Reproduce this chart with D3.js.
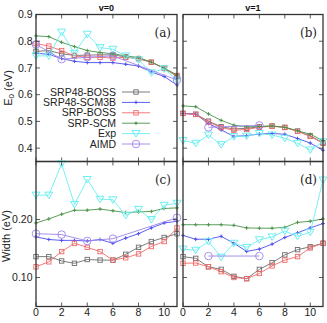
<!DOCTYPE html>
<html><head><meta charset="utf-8">
<script src="https://cdn.jsdelivr.net/npm/d3@7"></script>
<style>body{margin:0;background:#fff}svg{display:block}</style>
</head><body>
<script>
// ---- data ----
const J = [0,1,2,3,4,5,6,7,8,9,10,11];
const aimdJ_v0 = [0,2,4,6,11];
const aimdJ_v1 = [2,6];
const seriesNames = ["SRP48-BOSS","SRP48-SCM3B","SRP-BOSS","SRP-SCM","Exp","AIMD"];
const xTicks = [0,2,4,6,8,10];
const e0Ticks = [0.4,0.5,0.6,0.7,0.8,0.9];
const widthTicks = [0.10,0.20];

// E0, v=0
const e0_v0_srp48boss  = [0.762,0.765,0.753,0.747,0.748,0.749,0.749,0.741,0.735,0.721,0.699,0.668];
const e0_v0_srp48scm3b = [0.755,0.751,0.735,0.725,0.720,0.720,0.720,0.714,0.707,0.685,0.668,0.636];
const e0_v0_srpboss    = [0.791,0.782,0.765,0.745,0.740,0.740,0.737,0.740,0.735,0.722,0.699,0.672];
const e0_v0_srpscm     = [0.820,0.817,0.796,0.780,0.765,0.758,0.753,0.745,0.739,0.722,0.699,0.674];
const e0_v0_exp        = [0.745,0.745,0.834,0.755,0.826,0.776,0.770,0.745,0.730,0.682,0.697,0.655];
const e0_v0_aimd       = [0.788,0.733,0.740,0.745,0.655];
// E0, v=1
const e0_v1_srp48boss  = [0.530,0.527,0.501,0.480,0.472,0.474,0.480,0.483,0.478,0.464,0.446,0.420];
const e0_v1_srp48scm3b = [0.530,0.527,0.492,0.468,0.444,0.447,0.453,0.455,0.452,0.436,0.419,0.392];
const e0_v1_srpboss    = [0.530,0.526,0.497,0.477,0.467,0.470,0.478,0.482,0.477,0.463,0.444,0.418];
const e0_v1_srpscm     = [0.558,0.555,0.528,0.504,0.486,0.480,0.481,0.483,0.478,0.465,0.452,0.428];
const e0_v1_exp        = [0.428,0.418,0.449,0.413,0.443,0.445,0.455,0.449,0.437,0.418,0.393,0.424];
const e0_v1_aimd       = [0.478,0.485];
// Width, v=0
const w_v0_srp48boss  = [0.136,0.136,0.1285,0.1245,0.131,0.130,0.130,0.140,0.152,0.162,0.169,0.1755];
const w_v0_srp48scm3b = [0.170,0.1655,0.164,0.164,0.163,0.1655,0.159,0.168,0.1755,0.1855,0.194,0.197];
const w_v0_srpboss    = [0.1185,0.127,0.1447,0.159,0.152,0.1447,0.130,0.134,0.1407,0.1535,0.162,0.1855];
const w_v0_srpscm     = [0.194,0.201,0.209,0.216,0.216,0.218,0.215,0.212,0.213,0.214,0.219,0.220];
const w_v0_exp        = [0.242,0.242,0.296,0.226,0.269,0.235,0.234,0.207,0.2175,0.200,0.2245,0.228];
const w_v0_aimd       = [0.1755,0.174,0.163,0.167,0.203];
// Width, v=1
const w_v1_srp48boss  = [0.136,0.133,0.1185,0.114,0.102,0.098,0.114,0.1255,0.139,0.148,0.153,0.159];
const w_v1_srp48scm3b = [0.1726,0.166,0.166,0.171,0.159,0.145,0.149,0.1575,0.169,0.177,0.1855,0.193];
const w_v1_srpboss    = [0.1245,0.125,0.1185,0.110,0.100,0.098,0.107,0.120,0.130,0.136,0.151,0.159];
const w_v1_srpscm     = [0.191,0.191,0.191,0.191,0.190,0.1855,0.185,0.185,0.1865,0.195,0.197,0.201];
const w_v1_exp        = [0.149,0.147,0.162,0.135,0.159,0.152,0.165,0.170,0.180,0.171,0.178,0.268];
const w_v1_aimd       = [0.137,0.137];

// ---- styles ----
const styles = {
  "SRP48-BOSS":  {color:"#6e6e6e", mark:"square"},
  "SRP48-SCM3B": {color:"#4d4df0", mark:"plus"},
  "SRP-BOSS":    {color:"#f06a6a", mark:"square"},
  "SRP-SCM":     {color:"#4a944a", mark:"plus"},
  "Exp":         {color:"#6aeef0", mark:"tri"},
  "AIMD":        {color:"#9d85ea", mark:"circle"}
};

const W = 327, H = 323;
const svg = d3.select("body").append("svg").attr("width",W).attr("height",H);
const font = "'Liberation Sans', Arial, Helvetica, sans-serif";

const xL = d3.scaleLinear().domain([0,11]).range([36,177]);
const xR = d3.scaleLinear().domain([0,11]).range([183,323]);
const yTop = d3.scaleLinear().domain([0.35,0.9]).range([161.5,14.5]);
const yBot = d3.scaleLinear().domain([0.05,0.30]).range([306.5,161.5]);

function drawMarker(g, kind, cx, cy, color){
  if(kind==="square"){
    g.append("rect").attr("x",cx-2.2).attr("y",cy-2.2).attr("width",4.4).attr("height",4.4)
      .attr("fill","none").attr("stroke",color).attr("stroke-width",0.9);
  } else if(kind==="plus"){
    g.append("path").attr("d",`M${cx-1.8},${cy}H${cx+1.8}M${cx},${cy-1.8}V${cy+1.8}`)
      .attr("stroke",color).attr("stroke-width",1);
  } else if(kind==="tri"){
    g.append("path").attr("d",`M${cx-4},${cy-3}L${cx+4},${cy-3}L${cx},${cy+3.5}Z`)
      .attr("fill","none").attr("stroke",color).attr("stroke-width",1);
  } else if(kind==="circle"){
    g.append("circle").attr("cx",cx).attr("cy",cy).attr("r",3.8)
      .attr("fill","none").attr("stroke",color).attr("stroke-width",0.9);
  }
}

function panel(x, y, seriesList, yticks, fmt, showYLabels, letter){
  const g = svg.append("g");
  const [x0,x1] = x.range(); const [y1,y0] = y.range();
  seriesList.forEach(s=>{
    const st = styles[s.name];
    const pts = s.js.map((j,i)=>[x(j), y(s.vals[i])]);
    g.append("path").attr("d", d3.line()(pts)).attr("fill","none")
      .attr("stroke", st.color).attr("stroke-width",0.9);
    pts.forEach(p=>drawMarker(g, st.mark, p[0], p[1], st.color));
  });
  g.append("rect").attr("x",x0).attr("y",y0).attr("width",x1-x0).attr("height",y1-y0)
    .attr("fill","none").attr("stroke","#333").attr("stroke-width",1.3);
  yticks.forEach(t=>{
    const yy = y(t);
    g.append("line").attr("x1",x0).attr("x2",x0+4).attr("y1",yy).attr("y2",yy).attr("stroke","#333").attr("stroke-width",0.8);
    g.append("line").attr("x1",x1-4).attr("x2",x1).attr("y1",yy).attr("y2",yy).attr("stroke","#333").attr("stroke-width",0.8);
    if(showYLabels){
      g.append("text").attr("x",x0-3.5).attr("y",yy+3.8).attr("text-anchor","end")
        .attr("font-family",font).attr("font-size",10.5).attr("fill","#222").text(fmt(t));
    }
  });
  xTicks.forEach(t=>{
    const xx = x(t);
    g.append("line").attr("x1",xx).attr("x2",xx).attr("y1",y1).attr("y2",y1-4).attr("stroke","#333").attr("stroke-width",0.8);
    g.append("line").attr("x1",xx).attr("x2",xx).attr("y1",y0).attr("y2",y0+4).attr("stroke","#333").attr("stroke-width",0.8);
  });
  g.append("text").attr("x",x1-6).attr("y",y0+22).attr("text-anchor","end")
    .attr("font-family","'DejaVu Serif','Liberation Serif',serif").attr("font-size",12).attr("fill","#222").text(letter);
  return g;
}

function mk(vals, aimdJ){
  return [
    {name:"SRP48-BOSS", js:J, vals:vals[0]},
    {name:"SRP48-SCM3B", js:J, vals:vals[1]},
    {name:"SRP-BOSS", js:J, vals:vals[2]},
    {name:"SRP-SCM", js:J, vals:vals[3]},
    {name:"Exp", js:J, vals:vals[4]},
    {name:"AIMD", js:aimdJ, vals:vals[5]}
  ];
}

const f1 = d3.format(".1f"), f2 = d3.format(".2f");
panel(xL, yTop, mk([e0_v0_srp48boss,e0_v0_srp48scm3b,e0_v0_srpboss,e0_v0_srpscm,e0_v0_exp,e0_v0_aimd],aimdJ_v0), e0Ticks, f1, true, "(a)");
panel(xR, yTop, mk([e0_v1_srp48boss,e0_v1_srp48scm3b,e0_v1_srpboss,e0_v1_srpscm,e0_v1_exp,e0_v1_aimd],aimdJ_v1), e0Ticks, f1, false, "(b)");
panel(xL, yBot, mk([w_v0_srp48boss,w_v0_srp48scm3b,w_v0_srpboss,w_v0_srpscm,w_v0_exp,w_v0_aimd],aimdJ_v0), widthTicks, f2, true, "(c)");
panel(xR, yBot, mk([w_v1_srp48boss,w_v1_srp48scm3b,w_v1_srpboss,w_v1_srpscm,w_v1_exp,w_v1_aimd],aimdJ_v1), widthTicks, f2, false, "(d)");

// x tick labels
[xL,xR].forEach(x=>{
  xTicks.forEach(t=>{
    svg.append("text").attr("x",x(t)).attr("y",316).attr("text-anchor","middle")
      .attr("font-family",font).attr("font-size",10.5).attr("fill","#222").text(t);
  });
  svg.append("text").attr("x",(x.range()[0]+x.range()[1])/2).attr("y",331).attr("text-anchor","middle")
    .attr("font-family",font).attr("font-size",11).attr("fill","#222").text("J");
});

// titles
svg.append("text").attr("x",(xL.range()[0]+xL.range()[1])/2).attr("y",11).attr("text-anchor","middle")
  .attr("font-family",font).attr("font-size",9).attr("font-weight","bold").attr("fill","#111").text("v=0");
svg.append("text").attr("x",(xR.range()[0]+xR.range()[1])/2).attr("y",11).attr("text-anchor","middle")
  .attr("font-family",font).attr("font-size",9).attr("font-weight","bold").attr("fill","#111").text("v=1");

// y axis labels
const e0lab = svg.append("text").attr("transform",`translate(11.5,${(yTop.range()[0]+yTop.range()[1])/2}) rotate(-90)`)
  .attr("text-anchor","middle").attr("font-family",font).attr("font-size",11).attr("fill","#222");
e0lab.append("tspan").text("E");
e0lab.append("tspan").attr("font-size",8).attr("dy",2.5).text("0");
e0lab.append("tspan").attr("dy",-2.5).text(" (eV)");
svg.append("text").attr("transform",`translate(10,236) rotate(-90)`)
  .attr("text-anchor","middle").attr("font-family",font).attr("font-size",11).attr("fill","#222").text("Width (eV)");

// legend (in panel a)
const legY0 = 92, legDy = 10.4;
seriesNames.forEach((n,i)=>{
  const st = styles[n];
  const yy = legY0 + i*legDy;
  const lg = svg.append("g");
  lg.append("text").attr("x",116).attr("y",yy+3.6).attr("text-anchor","end")
    .attr("font-family",font).attr("font-size",10.5).attr("fill","#222").text(n);
  lg.append("line").attr("x1",122).attr("x2",150).attr("y1",yy).attr("y2",yy).attr("stroke",st.color).attr("stroke-width",0.9);
  drawMarker(lg, st.mark, 136, yy, st.color);
});
</script>
</body></html>
